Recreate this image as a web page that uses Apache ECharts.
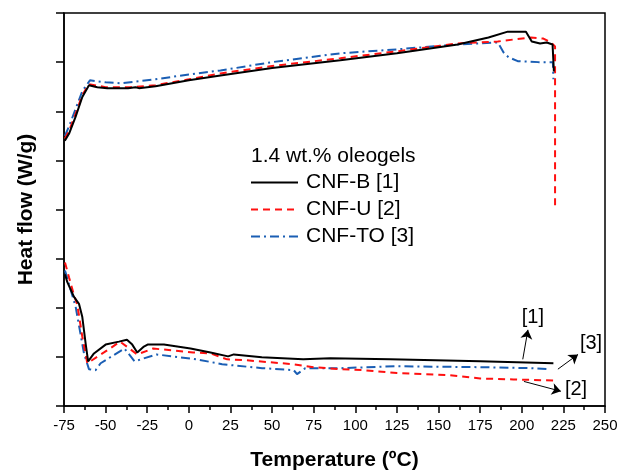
<!DOCTYPE html>
<html>
<head>
<meta charset="utf-8">
<script src="https://cdn.jsdelivr.net/npm/echarts@6/dist/echarts.min.js"></script>
<style>
  html, body { margin: 0; padding: 0; background: #fff; }
  #chart { width: 621px; height: 476px; }
</style>
</head>
<body>
<div id="chart"></div>
<script>
// temperature (ºC) and heat flow (arbitrary, offset)
var xTicks = [-75, -50, -25, 0, 25, 50, 75, 100, 125, 150, 175, 200, 225, 250];

// upper curves
var bUpT = [-74.5, -72, -68, -64, -60, -55, -49, -36.5, -32, -31, -30, -20, 0, 19, 50, 91, 125, 161.5, 180, 191.6, 202.5, 206, 211, 215, 218.5, 219.3];
var bUpV = [5.40, 5.54, 5.89, 6.29, 6.53, 6.49, 6.47, 6.47, 6.49, 6.53, 6.47, 6.51, 6.63, 6.73, 6.88, 7.04, 7.18, 7.36, 7.50, 7.62, 7.62, 7.42, 7.38, 7.40, 7.36, 6.81];
var rUpT = [-74.5, -72, -68, -64, -60, -50, -35, -20, 0, 19, 50, 91, 125, 161.5, 185.6, 195, 205.5, 213, 217.5, 220, 220];
var rUpV = [5.44, 5.60, 5.95, 6.33, 6.55, 6.49, 6.49, 6.53, 6.65, 6.77, 6.92, 7.08, 7.22, 7.38, 7.42, 7.46, 7.50, 7.48, 7.40, 7.32, 4.03];
var tUpT = [-74.5, -72, -68, -64, -59.4, -50, -41, -20, 0, 19, 50, 91, 125, 161.5, 185.6, 189, 192, 197.6, 210, 218.7, 219];
var tUpV = [5.50, 5.69, 6.05, 6.41, 6.63, 6.59, 6.57, 6.65, 6.75, 6.83, 7.00, 7.18, 7.26, 7.36, 7.40, 7.20, 7.10, 7.02, 7.00, 7.00, 6.65];

// lower curves
var bLoT = [-74.4, -73, -69, -66, -64, -62, -60.5, -57, -50, -42, -37.2, -34, -31, -27, -24.8, -15, 1, 13, 23.6, 27, 43.8, 68.7, 85, 121, 175, 219];
var bLoV = [2.68, 2.52, 2.22, 2.08, 1.81, 1.27, 0.91, 1.07, 1.25, 1.31, 1.35, 1.25, 1.09, 1.21, 1.25, 1.25, 1.17, 1.09, 1.01, 1.05, 0.99, 0.95, 0.97, 0.95, 0.91, 0.87];
var rLoT = [-74.4, -72, -69, -67, -64, -61, -51, -41.3, -31, -21.5, 2.6, 13, 23, 35, 63, 75, 91, 105, 125, 155.5, 175, 195, 219];
var rLoV = [2.92, 2.62, 2.26, 2.06, 1.41, 0.87, 1.09, 1.31, 1.05, 1.17, 1.09, 1.07, 0.95, 0.93, 0.85, 0.79, 0.75, 0.73, 0.67, 0.63, 0.56, 0.54, 0.52];
var tLoT = [-74.4, -72, -68, -63, -60, -56, -53, -38.7, -32.6, -19.5, 4.8, 20, 44, 63, 65, 70, 91, 125, 175, 205.5, 216];
var tLoV = [2.76, 2.48, 2.02, 1.07, 0.75, 0.73, 0.87, 1.17, 0.91, 1.05, 0.95, 0.85, 0.77, 0.73, 0.65, 0.77, 0.77, 0.81, 0.79, 0.77, 0.75];

var names = ['CNF-B [1]', 'CNF-U [2]', 'CNF-TO [3]'];
var colors = ['#000000', '#ff1010', '#1a5eb4'];
var dashes = ['solid', [7, 5], [9, 4, 2, 4]];

// arrow annotations: label, label position, arrow start, arrow end
var annLabels = ['[1]', '[3]', '[2]'];
var annText = [[206.7, 1.81], [241.6, 1.27], [232.6, 0.34]];
var annFrom = [[200.6, 0.95], [221.7, 0.75], [201.3, 0.50]];
var annTo = [[203.7, 1.55], [233.8, 1.05], [223.5, 0.30]];

function pairs(t, v) {
    var out = [];
    for (var i = 0; i < t.length; i++) out.push([t[i], v[i]]);
    return out;
}

var curves = [
    [bUpT, bUpV, 0], [bLoT, bLoV, 0],
    [rUpT, rUpV, 1], [rLoT, rLoV, 1],
    [tUpT, tUpV, 2], [tLoT, tLoV, 2]
];

var series = curves.map(function (c) {
    var k = c[2];
    return {
        name: names[k],
        type: 'line',
        data: pairs(c[0], c[1]),
        symbol: 'none',
        showSymbol: false,
        silent: true,
        z: 3 - k,
        lineStyle: { color: colors[k], width: 2, type: dashes[k] },
        itemStyle: { color: colors[k] }
    };
});

var font = 'Liberation Sans, Arial, sans-serif';

// arrows and bracket labels
series.push({
    type: 'line',
    data: [],
    silent: true,
    markLine: {
        silent: true,
        symbol: ['none', 'arrow'],
        symbolSize: 9,
        label: { show: false },
        lineStyle: { color: '#000', width: 1, type: 'solid' },
        data: annFrom.map(function (f, i) {
            return [{ coord: f, symbol: 'none' }, { coord: annTo[i], symbol: 'arrow' }];
        })
    },
    markPoint: {
        silent: true,
        symbolSize: 0,
        label: {
            show: true,
            color: '#000',
            fontSize: 20,
            fontFamily: font,
            formatter: function (p) { return p.name; }
        },
        data: annText.map(function (p, i) {
            return { name: annLabels[i], coord: p };
        })
    }
});

var chart = echarts.init(document.getElementById('chart'));
chart.setOption({
    animation: false,
    backgroundColor: '#fff',
    grid: { left: 64, right: 16, top: 13, bottom: 66, show: true, borderColor: '#000', borderWidth: 1.5 },
    legend: {
        data: names,
        orient: 'vertical',
        left: 250,
        top: 172,
        itemWidth: 47,
        itemHeight: 14,
        itemGap: 6,
        padding: 0,
        itemStyle: { opacity: 0 },
        lineStyle: { width: 2 },
        textStyle: { fontSize: 21, color: '#000', fontFamily: font, padding: [0, 0, 0, 3] }
    },
    graphic: [{
        type: 'text',
        left: 251,
        top: 146,
        style: { text: '1.4 wt.% oleogels', fontSize: 21, fill: '#000', fontFamily: font }
    }],
    xAxis: {
        type: 'value',
        min: -75,
        max: 250,
        interval: 25,
        name: 'Temperature (ºC)',
        nameLocation: 'middle',
        nameGap: 44,
        nameTextStyle: { fontSize: 21, fontWeight: 'bold', color: '#000', fontFamily: font },
        splitLine: { show: false },
        axisLine: { onZero: false, lineStyle: { color: '#000', width: 1.5 } },
        axisTick: { length: 7, lineStyle: { color: '#000', width: 1.5 } },
        minorTick: { show: true, splitNumber: 2, length: 4, lineStyle: { color: '#000', width: 1.5 } },
        axisLabel: {
            fontSize: 15, color: '#000', fontFamily: font, margin: 12,
            formatter: function (v) { return xTicks.indexOf(v) >= 0 ? String(v) : ''; }
        }
    },
    yAxis: {
        type: 'value',
        min: 0,
        max: 8,
        interval: 1,
        name: 'Heat flow (W/g)',
        nameLocation: 'middle',
        nameGap: 27,
        nameTextStyle: { fontSize: 21, fontWeight: 'bold', color: '#000', fontFamily: font },
        splitLine: { show: false },
        axisLine: { onZero: false, lineStyle: { color: '#000', width: 1.5 } },
        axisTick: { length: 8, lineStyle: { color: '#000', width: 1.5 } },
        axisLabel: { show: false }
    },
    series: series
});
</script>
</body>
</html>
